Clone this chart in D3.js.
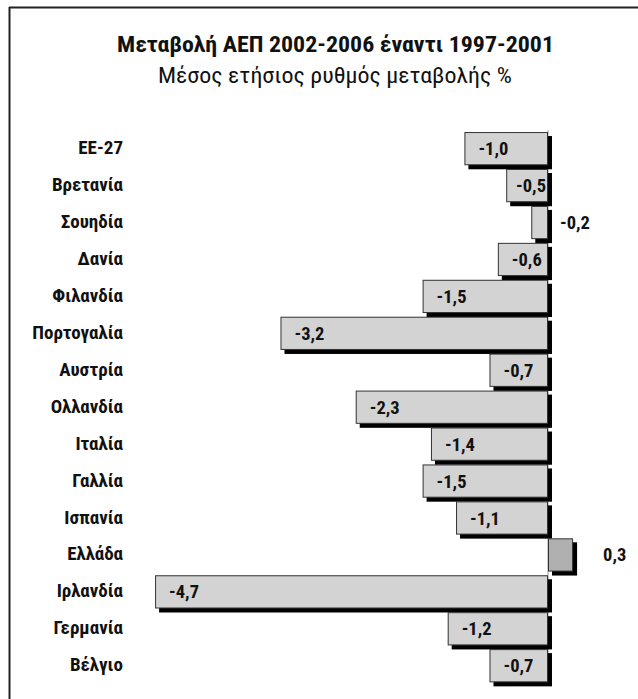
<!DOCTYPE html>
<html>
<head>
<meta charset="utf-8">
<script src="https://cdn.jsdelivr.net/npm/d3@7"></script>
<style>
  html, body { margin: 0; padding: 0; background: #fff; }
  svg { display: block; }
  .narrow { font-family: "Liberation Sans Narrow", "Arial Narrow", "Roboto Condensed", "DejaVu Sans Condensed", sans-serif; }
</style>
</head>
<body>
<svg id="chart" width="638" height="699"></svg>
<script>
const titleText = "Μεταβολή ΑΕΠ 2002-2006 έναντι 1997-2001";
const subtitleText = "Μέσος ετήσιος ρυθμός μεταβολής %";
const categories = ["ΕΕ-27", "Βρετανία", "Σουηδία", "Δανία", "Φιλανδία", "Πορτογαλία", "Αυστρία", "Ολλανδία", "Ιταλία", "Γαλλία", "Ισπανία", "Ελλάδα", "Ιρλανδία", "Γερμανία", "Βέλγιο"];
const values = [-1.0, -0.5, -0.2, -0.6, -1.5, -3.2, -0.7, -2.3, -1.4, -1.5, -1.1, 0.3, -4.7, -1.2, -0.7];
const highlight = "Ελλάδα";

const fmt = v => d3.format(".1f")(v).replace(".", ",").replace("−", "-");

const svg = d3.select("#chart");

// frame
svg.append("line").attr("x1", 9.5).attr("x2", 9.5).attr("y1", 7).attr("y2", 699)
  .attr("stroke", "#222").attr("stroke-width", 2);
svg.append("line").attr("x1", 9).attr("x2", 638).attr("y1", 7.5).attr("y2", 7.5)
  .attr("stroke", "#222").attr("stroke-width", 2);

// titles
svg.append("text").attr("class", "narrow")
  .attr("x", 335.5).attr("y", 52).attr("text-anchor", "middle")
  .attr("font-size", 22.5).attr("font-weight", "bold").attr("fill", "#111")
  .attr("textLength", 437).attr("lengthAdjust", "spacingAndGlyphs")
  .text(titleText);
svg.append("text").attr("class", "narrow")
  .attr("x", 335).attr("y", 83).attr("text-anchor", "middle")
  .attr("font-size", 22.5).attr("fill", "#111")
  .attr("textLength", 354).attr("lengthAdjust", "spacingAndGlyphs")
  .text(subtitleText);

const x = d3.scaleLinear().domain([-5, 0.5]).range([548 - 5 * 83.6, 548 + 0.5 * 83.6]);
const y = d3.scaleBand().domain(categories).range([130.2, 684.2]).paddingInner(0.1).paddingOuter(0.05);

const data = categories.map((c, i) => ({ c, v: values[i] }));

// zero axis line
svg.append("line")
  .attr("x1", x(0)).attr("x2", x(0))
  .attr("y1", y.range()[0]).attr("y2", y.range()[1])
  .attr("stroke", "#999").attr("stroke-width", 1);

const off = 4;
// shadows
svg.append("g").selectAll("rect").data(data).join("rect")
  .attr("x", d => Math.min(x(d.v), x(0)) + off)
  .attr("y", d => y(d.c) + off)
  .attr("width", d => Math.abs(x(d.v) - x(0)))
  .attr("height", y.bandwidth())
  .attr("fill", "#000");
// bars
svg.append("g").selectAll("rect").data(data).join("rect")
  .attr("x", d => Math.min(x(d.v), x(0)) + 0.5)
  .attr("y", d => y(d.c) + 0.5)
  .attr("width", d => Math.abs(x(d.v) - x(0)) - 1)
  .attr("height", y.bandwidth() - 1)
  .attr("fill", d => d.c === highlight ? "#b0b0b0" : "#d3d3d3")
  .attr("stroke", "#333").attr("stroke-width", 1);

// category labels
svg.append("g").selectAll("text").data(data).join("text")
  .attr("class", "narrow")
  .attr("x", 123).attr("y", d => y(d.c) + y.bandwidth() / 2 + 5.5)
  .attr("text-anchor", "end")
  .attr("font-size", 19).attr("font-weight", "bold").attr("fill", "#111")
  .text(d => d.c);

// value labels
svg.append("g").selectAll("text").data(data).join("text")
  .attr("class", "narrow")
  .attr("y", d => y(d.c) + y.bandwidth() / 2 + 6.5)
  .attr("font-size", 18.5).attr("font-weight", "bold").attr("fill", "#111")
  .text(d => fmt(d.v))
  .attr("x", function(d) {
    const w = this.getComputedTextLength();
    if (d.v > 0) return x(d.v) + 30;
    if (x(0) - x(d.v) < w + 4) return x(0) + 12;
    return Math.min(x(d.v) + 14, x(0) - 2 - w);
  });
</script>
</body>
</html>
